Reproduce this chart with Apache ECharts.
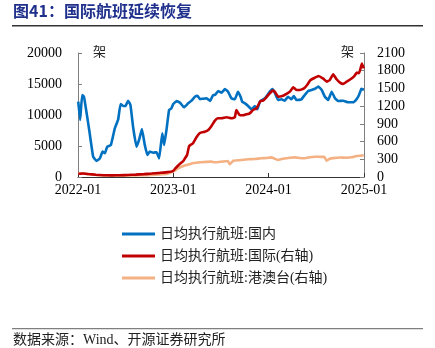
<!DOCTYPE html>
<html>
<head>
<meta charset="utf-8">
<script src="https://cdn.jsdelivr.net/npm/echarts@6/dist/echarts.min.js"></script>
<style>
  html, body { margin: 0; padding: 0; background: #fff; }
  #chart { width: 435px; height: 348px; }
</style>
</head>
<body>
<div id="chart"></div>
<script>
// 日均执行航班：国内（左轴，架）
const domesticDates = [
  '2022-01-02','2022-01-09','2022-01-17','2022-01-24','2022-02-13','2022-02-28','2022-03-13','2022-03-26',
  '2022-04-05','2022-04-14','2022-04-23','2022-05-07','2022-05-22','2022-06-04','2022-06-13','2022-06-23',
  '2022-07-02','2022-07-12','2022-07-21','2022-07-31','2022-08-13','2022-08-23','2022-09-03','2022-09-14',
  '2022-09-24','2022-10-03','2022-10-16','2022-10-29','2022-11-08','2022-11-20','2022-11-27','2022-12-06',
  '2022-12-16','2022-12-25','2023-01-01','2023-01-14','2023-01-27','2023-02-11','2023-02-27','2023-03-12',
  '2023-03-25','2023-04-04','2023-04-13','2023-04-26','2023-05-09','2023-05-22','2023-06-03','2023-06-10',
  '2023-06-22','2023-07-05','2023-07-18','2023-07-30','2023-08-12','2023-08-25','2023-09-06','2023-09-16',
  '2023-09-22','2023-10-03','2023-10-15','2023-10-28','2023-11-10','2023-11-19','2023-11-29','2023-12-18',
  '2024-01-06','2024-01-16','2024-01-25','2024-02-07','2024-02-20','2024-03-03','2024-03-16','2024-03-29',
  '2024-04-07','2024-04-17','2024-05-06','2024-05-19','2024-06-01','2024-06-14','2024-06-27','2024-07-10',
  '2024-07-23','2024-08-04','2024-08-17','2024-08-30','2024-09-12','2024-09-24','2024-10-13','2024-11-01',
  '2024-11-20','2024-12-03','2024-12-13','2024-12-22','2024-12-31'
];
const domesticValues = [
  12150, 9200, 13230, 12950, 7580, 3280, 2580, 3010,
  4090, 3820, 4890, 5160, 7850, 9300, 11770, 11450,
  11450, 12300, 11610, 8110, 4890, 5970, 7740, 5160,
  3550, 4090, 3920, 4000, 3010, 7050, 5160, 7580,
  10800, 11080, 11770, 12260, 11990, 11240, 11880, 12310,
  12950, 13110, 12550, 12630, 12690, 12260, 13230, 13230,
  13870, 13600, 14190, 13760, 12690, 12530, 13760, 12950,
  12150, 11880, 11450, 10920, 11450, 10920, 12150, 12690,
  13760, 14190, 13600, 12420, 12530, 12310, 12950, 12530,
  13070, 12420, 12530, 13230, 13870, 14030, 14240, 14570,
  14030, 12950, 12420, 13760, 12690, 12260, 12310, 12050,
  12050, 12530, 13230, 14240, 14030
];

// 日均执行航班：国际（右轴，架）
const intlDates = [
  '2022-01-02','2022-01-20','2022-02-10','2022-03-10','2022-04-10','2022-05-10','2022-06-10','2022-07-10',
  '2022-08-10','2022-09-10','2022-10-10','2022-11-10','2022-12-10','2022-12-31','2023-01-08','2023-01-21',
  '2023-02-08','2023-02-14','2023-02-23','2023-03-03','2023-03-18','2023-03-31','2023-04-13','2023-05-02',
  '2023-05-14','2023-05-27','2023-06-09','2023-06-21','2023-07-05','2023-07-24','2023-08-12','2023-08-25',
  '2023-08-31','2023-09-12','2023-09-25','2023-10-08','2023-10-21','2023-11-03','2023-11-16','2023-12-01',
  '2023-12-11','2023-12-24','2024-01-06','2024-01-16','2024-01-25','2024-02-07','2024-02-26','2024-03-10',
  '2024-03-23','2024-04-05','2024-04-17','2024-04-30','2024-05-16','2024-05-28','2024-06-10','2024-06-27',
  '2024-07-10','2024-07-29','2024-08-11','2024-08-23','2024-09-05','2024-09-18','2024-10-01','2024-10-13',
  '2024-10-26','2024-11-10','2024-11-23','2024-12-05','2024-12-13','2024-12-24','2024-12-31'
];
const intlValues = [
  55, 60, 50, 38, 30, 28, 30, 35,
  40, 48, 58, 70, 82, 100, 140, 200,
  270, 310, 373, 525, 571, 672, 745, 768,
  790, 860, 950, 994, 994, 1011, 994, 1011,
  1135, 1050, 1045, 1062, 1079, 1135, 1163, 1287,
  1293, 1350, 1418, 1462, 1445, 1360, 1377, 1406,
  1445, 1519, 1474, 1474, 1502, 1558, 1643, 1682,
  1711, 1665, 1614, 1643, 1740, 1655, 1598, 1575,
  1614, 1655, 1699, 1767, 1757, 1920, 1840
];

// 日均执行航班：港澳台（右轴，架）
const hmtDates = [
  '2022-01-02','2022-01-20','2022-02-10','2022-03-10','2022-04-10','2022-05-10','2022-06-10','2022-07-10',
  '2022-08-10','2022-09-10','2022-10-10','2022-11-10','2022-12-10','2022-12-31','2023-01-21','2023-02-14',
  '2023-03-04','2023-03-15','2023-04-15','2023-05-27','2023-06-09','2023-07-06','2023-07-30','2023-08-06',
  '2023-08-19','2023-09-12','2023-10-15','2023-11-10','2023-12-04','2023-12-24','2024-01-12','2024-01-25',
  '2024-02-07','2024-02-21','2024-03-10','2024-03-23','2024-04-11','2024-04-30','2024-05-19','2024-06-08',
  '2024-06-27','2024-07-23','2024-08-02','2024-08-11','2024-08-23','2024-09-05','2024-10-01','2024-10-26',
  '2024-11-14','2024-12-03','2024-12-22','2024-12-31'
];
const hmtValues = [
  60, 62, 48, 35, 25, 22, 22, 25,
  28, 30, 35, 42, 55, 90, 150, 195,
  215, 232, 249, 260, 249, 260, 271, 215,
  276, 285, 300, 305, 317, 322, 333, 310,
  288, 305, 317, 325, 333, 322, 318, 335,
  344, 340, 340, 276, 310, 320, 330, 325,
  333, 356, 362, 367
];

const seriesNames = ['日均执行航班:国内', '日均执行航班:国际(右轴)', '日均执行航班:港澳台(右轴)'];
const seriesColors = ['#0070C0', '#C00000', '#F4B183'];

const zip = (d, v) => d.map((x, i) => [x, v[i]]);

const serif = '"Liberation Serif", "Times New Roman", "Noto Sans CJK SC", serif';
const cjk = '"Noto Sans CJK SC", "Liberation Serif", sans-serif';

const chart = echarts.init(document.getElementById('chart'), null, { renderer: 'canvas' });

const axisLineStyle = { color: '#7f7f7f', width: 1 };
const plainNumber = v => String(v);

chart.setOption({
  animation: false,
  backgroundColor: '#ffffff',
  grid: { left: 78, right: 71, top: 53, bottom: 171, containLabel: false },
  graphic: [
    { type: 'text', left: 13, top: 3,
      style: { text: '图41：国际航班延续恢复', font: 'bold 16px ' + cjk, fill: '#1F2F8C' } },
    { type: 'rect', shape: { x: 12, y: 25, width: 411, height: 1.5 }, style: { fill: '#333333' } },
    { type: 'text', left: 93, top: 45,
      style: { text: '架', font: '13px ' + cjk, fill: '#222222' } },
    { type: 'text', left: 341, top: 45,
      style: { text: '架', font: '13px ' + cjk, fill: '#222222' } },
    { type: 'rect', shape: { x: 12, y: 328, width: 411, height: 1.2 }, style: { fill: '#7f7f7f' } },
    { type: 'text', left: 13, top: 333,
      style: { text: '数据来源：Wind、开源证券研究所', font: '14px ' + serif, fill: '#222222' } }
  ],
  legend: {
    orient: 'vertical',
    left: 117,
    top: 222,
    itemWidth: 33,
    itemHeight: 3,
    itemGap: 8,
    icon: 'rect',
    data: seriesNames,
    textStyle: { fontFamily: serif, fontSize: 14, color: '#222222', lineHeight: 14, padding: [0, 0, 0, 0] }
  },
  xAxis: {
    type: 'time',
    min: '2022-01-01',
    max: '2025-01-01',
    splitNumber: 3,
    minInterval: 360 * 24 * 3600 * 1000,
    axisLine: { lineStyle: { color: '#333333', width: 1 } },
    axisTick: { inside: true, length: 4, lineStyle: { color: '#333333' } },
    splitLine: { show: false },
    axisLabel: {
      fontFamily: serif, fontSize: 14, color: '#000000', margin: 6,
      showMinLabel: true, showMaxLabel: true, hideOverlap: false,
      formatter: function (v) {
        const d = new Date(v);
        return d.getFullYear() + '-' + String(d.getMonth() + 1).padStart(2, '0');
      }
    }
  },
  yAxis: [
    {
      type: 'value', min: 0, max: 20000, interval: 5000, position: 'left',
      axisLine: { show: true, lineStyle: axisLineStyle },
      axisTick: { show: true, inside: true, length: 4, lineStyle: axisLineStyle },
      splitLine: { show: false },
      axisLabel: { fontFamily: serif, fontSize: 14, color: '#000000', margin: 16, formatter: plainNumber }
    },
    {
      type: 'value', min: 0, max: 2100, interval: 300, position: 'right',
      axisLine: { show: true, lineStyle: axisLineStyle },
      axisTick: { show: true, inside: true, length: 4, lineStyle: axisLineStyle },
      splitLine: { show: false },
      axisLabel: { fontFamily: serif, fontSize: 14, color: '#000000', margin: 13, formatter: plainNumber }
    }
  ],
  series: [
    { name: seriesNames[2], type: 'line', yAxisIndex: 1, data: zip(hmtDates, hmtValues),
      showSymbol: false, symbol: 'none', smooth: 0.1, z: 1,
      lineStyle: { color: seriesColors[2], width: 2.6 }, itemStyle: { color: seriesColors[2] } },
    { name: seriesNames[0], type: 'line', yAxisIndex: 0, data: zip(domesticDates, domesticValues),
      showSymbol: false, symbol: 'none', smooth: 0.1, z: 2,
      lineStyle: { color: seriesColors[0], width: 2.6 }, itemStyle: { color: seriesColors[0] } },
    { name: seriesNames[1], type: 'line', yAxisIndex: 1, data: zip(intlDates, intlValues),
      showSymbol: false, symbol: 'none', smooth: 0.1, z: 3,
      lineStyle: { color: seriesColors[1], width: 2.6 }, itemStyle: { color: seriesColors[1] } }
  ]
});
</script>
</body>
</html>
